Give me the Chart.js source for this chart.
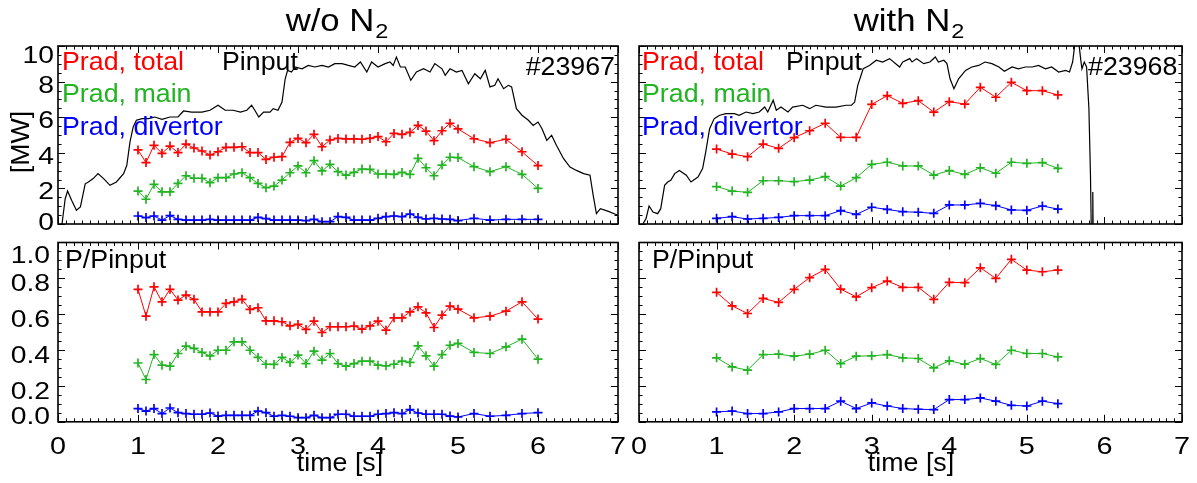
<!DOCTYPE html>
<html>
<head>
<meta charset="utf-8">
<script src="https://cdn.jsdelivr.net/npm/chart.js@4.4.1/dist/chart.umd.min.js"></script>
<style>
  html, body { margin: 0; padding: 0; background: #fff; }
  #wrap { position: relative; width: 1197px; height: 483px; }
  #wrap canvas { position: absolute; left: 0; top: 0; }
</style>
</head>
<body>
<div id="wrap">
  <canvas id="tl" width="1197" height="483"></canvas>
  <canvas id="tr" width="1197" height="483"></canvas>
  <canvas id="bl" width="1197" height="483"></canvas>
  <canvas id="br" width="1197" height="483"></canvas>
</div>
<script>
// ---- data ----
// shot #23967 (w/o N2), sampled every 0.1 s up to 5.0 s, then 0.2 s
const timeW = [1.0, 1.1, 1.2, 1.3, 1.4, 1.5, 1.6, 1.7, 1.8, 1.9, 2.0, 2.1, 2.2, 2.3, 2.4, 2.5, 2.6, 2.7, 2.8, 2.9,
  3.0, 3.1, 3.2, 3.3, 3.4, 3.5, 3.6, 3.7, 3.8, 3.9, 4.0, 4.1, 4.2, 4.3, 4.4, 4.5, 4.6, 4.7, 4.8, 4.9, 5.0,
  5.2, 5.4, 5.6, 5.8, 6.0];
const radTotalW = [4.16, 3.45, 4.42, 3.97, 4.38, 4.01, 4.49, 4.27, 4.10, 3.88, 4.06, 4.31, 4.31, 4.34, 4.01, 4.01, 3.63, 3.75, 3.78, 4.59,
  4.81, 4.57, 5.04, 4.34, 4.72, 4.81, 4.78, 4.78, 4.76, 4.81, 4.91, 4.62, 5.09, 5.04, 5.15, 5.54, 5.22, 4.68, 5.24, 5.66, 5.34,
  4.79, 4.57, 4.76, 4.06, 3.28];
const radMainW = [1.85, 1.39, 2.23, 1.81, 1.81, 2.28, 2.71, 2.57, 2.57, 2.32, 2.60, 2.60, 2.81, 2.88, 2.60, 2.28, 2.04, 2.13, 2.47, 2.88,
  3.26, 2.88, 3.56, 2.98, 3.35, 2.94, 2.75, 2.90, 3.09, 3.07, 2.81, 2.81, 2.79, 2.90, 2.79, 3.69, 3.16, 2.71, 3.31, 3.75, 3.73,
  3.22, 2.94, 3.22, 2.79, 2.00];
const radDivW = [0.45, 0.36, 0.45, 0.22, 0.47, 0.26, 0.22, 0.22, 0.22, 0.26, 0.22, 0.22, 0.22, 0.22, 0.22, 0.37, 0.30, 0.22, 0.22, 0.22,
  0.22, 0.19, 0.26, 0.13, 0.13, 0.41, 0.37, 0.22, 0.22, 0.22, 0.32, 0.41, 0.45, 0.41, 0.56, 0.37, 0.28, 0.32, 0.28, 0.26, 0.19,
  0.32, 0.22, 0.26, 0.26, 0.26];
const fracTotalW = [0.739, 0.589, 0.753, 0.669, 0.739, 0.679, 0.707, 0.683, 0.613, 0.613, 0.613, 0.660, 0.669, 0.683, 0.627, 0.636, 0.563, 0.563, 0.558, 0.535,
  0.543, 0.515, 0.561, 0.498, 0.530, 0.530, 0.530, 0.534, 0.517, 0.535, 0.561, 0.511, 0.580, 0.580, 0.613, 0.641, 0.608, 0.526, 0.595, 0.645, 0.628,
  0.580, 0.589, 0.617, 0.669, 0.573];
const fracMainW = [0.328, 0.236, 0.375, 0.316, 0.310, 0.381, 0.422, 0.409, 0.387, 0.368, 0.399, 0.399, 0.446, 0.446, 0.399, 0.359, 0.321, 0.320, 0.359, 0.331,
  0.372, 0.325, 0.394, 0.344, 0.381, 0.325, 0.310, 0.325, 0.338, 0.338, 0.316, 0.312, 0.321, 0.338, 0.331, 0.424, 0.368, 0.310, 0.375, 0.427, 0.437,
  0.387, 0.381, 0.418, 0.461, 0.349];
const fracDivW = [0.074, 0.060, 0.074, 0.046, 0.077, 0.051, 0.046, 0.042, 0.042, 0.049, 0.032, 0.036, 0.036, 0.036, 0.036, 0.059, 0.051, 0.031, 0.036, 0.031,
  0.023, 0.023, 0.036, 0.023, 0.023, 0.042, 0.042, 0.031, 0.031, 0.031, 0.042, 0.046, 0.051, 0.046, 0.068, 0.049, 0.042, 0.042, 0.042, 0.032, 0.027,
  0.046, 0.031, 0.036, 0.046, 0.051];
const pinTimeW = [0.05, 0.09, 0.12, 0.17, 0.23, 0.28, 0.34, 0.38, 0.44, 0.50, 0.57, 0.65, 0.73, 0.82, 0.86, 0.90, 0.94, 0.98, 1.05, 1.13,
  1.21, 1.30, 1.40, 1.50, 1.57, 1.67, 1.80, 1.90, 2.00, 2.09, 2.19, 2.28, 2.36, 2.42, 2.46, 2.51, 2.57, 2.65, 2.69, 2.75,
  2.80, 2.84, 2.87, 2.92, 2.96, 3.05, 3.13, 3.21, 3.30, 3.38, 3.46, 3.55, 3.63, 3.71, 3.78, 3.86, 3.92, 4.00, 4.09, 4.15,
  4.19, 4.23, 4.28, 4.34, 4.41, 4.48, 4.57, 4.65, 4.71, 4.80, 4.84, 4.90, 4.98, 5.05, 5.13, 5.21, 5.28, 5.34, 5.40, 5.46,
  5.50, 5.57, 5.63, 5.67, 5.73, 5.80, 5.88, 5.94, 6.00, 6.05, 6.11, 6.17, 6.23, 6.32, 6.40, 6.48, 6.57, 6.65, 6.69, 6.73,
  6.78, 6.88, 7.00];
const pinW = [0.00, 1.42, 1.85, 1.33, 0.77, 0.96, 2.26, 2.36, 2.55, 2.83, 2.55, 2.17, 2.36, 2.83, 3.30, 4.61, 5.45, 5.83, 5.92, 5.92,
  6.01, 5.88, 6.01, 6.01, 6.35, 6.29, 6.29, 6.39, 6.67, 6.39, 6.39, 6.29, 6.39, 6.67, 6.39, 6.01, 6.29, 6.29, 6.48, 6.39,
  6.85, 8.16, 8.63, 8.54, 8.82, 8.72, 8.91, 8.82, 8.91, 8.82, 9.01, 9.01, 8.91, 8.82, 9.10, 8.54, 9.10, 8.82, 9.01, 9.10,
  8.91, 9.38, 8.82, 8.82, 8.07, 8.54, 8.72, 8.54, 9.01, 8.72, 8.35, 8.72, 8.54, 8.63, 7.88, 8.44, 8.16, 8.63, 7.70, 7.79,
  8.16, 7.60, 7.79, 7.70, 6.48, 6.11, 5.83, 5.54, 5.73, 5.35, 4.70, 4.98, 4.42, 3.67, 3.20, 3.01, 2.83, 2.74, 1.61, 0.58,
  0.86, 0.71, 0.49];

// shot #23968 (with N2), sampled every 0.2 s
const timeN = [1.0, 1.2, 1.4, 1.6, 1.8, 2.0, 2.2, 2.4, 2.6, 2.8, 3.0, 3.2, 3.4, 3.6, 3.8, 4.0, 4.2, 4.4, 4.6, 4.8, 5.0, 5.2, 5.4];
const radTotalN = [4.21, 3.93, 3.78, 4.49, 4.25, 4.85, 5.24, 5.66, 4.87, 4.87, 6.72, 7.21, 6.78, 6.93, 6.29, 6.87, 6.74, 7.68, 7.12, 7.96, 7.49, 7.49, 7.25];
const radMainN = [2.10, 1.85, 1.78, 2.43, 2.43, 2.38, 2.47, 2.66, 2.13, 2.60, 3.35, 3.47, 3.26, 3.26, 2.75, 3.00, 2.79, 3.16, 2.85, 3.47, 3.41, 3.45, 3.13];
const radDivN = [0.32, 0.41, 0.28, 0.32, 0.37, 0.47, 0.47, 0.47, 0.75, 0.54, 0.94, 0.82, 0.69, 0.66, 0.60, 1.07, 1.07, 1.16, 1.03, 0.79, 0.77, 1.01, 0.84];
const fracTotalN = [0.722, 0.647, 0.604, 0.688, 0.666, 0.739, 0.804, 0.850, 0.740, 0.697, 0.748, 0.785, 0.750, 0.750, 0.683, 0.778, 0.776, 0.859, 0.800, 0.906, 0.846, 0.837, 0.846];
const fracMainN = [0.357, 0.306, 0.288, 0.375, 0.377, 0.366, 0.377, 0.399, 0.325, 0.366, 0.368, 0.375, 0.357, 0.353, 0.301, 0.340, 0.321, 0.353, 0.320, 0.399, 0.381, 0.381, 0.362];
const fracDivN = [0.055, 0.060, 0.046, 0.046, 0.055, 0.074, 0.074, 0.074, 0.115, 0.074, 0.105, 0.088, 0.074, 0.070, 0.068, 0.124, 0.124, 0.133, 0.115, 0.092, 0.088, 0.115, 0.101];
const pinTimeN = [0.05, 0.09, 0.13, 0.18, 0.24, 0.28, 0.33, 0.37, 0.41, 0.46, 0.52, 0.61, 0.67, 0.76, 0.82, 0.86, 0.91, 0.97, 1.04, 1.12,
  1.23, 1.29, 1.38, 1.47, 1.55, 1.62, 1.66, 1.73, 1.77, 1.83, 1.92, 1.98, 2.11, 2.20, 2.28, 2.41, 2.54, 2.67, 2.74, 2.78,
  2.82, 2.89, 2.97, 3.06, 3.14, 3.23, 3.36, 3.40, 3.49, 3.52, 3.58, 3.67, 3.75, 3.82, 3.86, 3.93, 3.97, 4.01, 4.06, 4.12,
  4.21, 4.29, 4.38, 4.46, 4.55, 4.64, 4.71, 4.81, 4.89, 4.98, 5.07, 5.15, 5.24, 5.32, 5.41, 5.50, 5.55, 5.59, 5.63, 5.66,
  5.69, 5.71, 5.74, 5.77, 5.80, 5.82, 5.84, 5.85, 5.86];
const pinN = [0.00, 0.30, 1.01, 0.67, 0.58, 0.86, 2.17, 2.36, 2.45, 2.83, 3.01, 2.74, 2.36, 2.64, 3.11, 4.04, 5.35, 5.92, 6.11, 6.20,
  6.20, 6.11, 6.29, 6.20, 6.29, 6.57, 6.29, 6.95, 6.39, 6.57, 6.29, 6.57, 6.67, 6.48, 6.67, 6.57, 6.57, 6.67, 6.67, 6.85,
  7.79, 8.72, 8.91, 9.20, 9.10, 9.29, 8.82, 9.10, 9.29, 9.10, 9.29, 9.01, 9.10, 9.38, 9.10, 9.20, 9.01, 8.16, 7.60, 8.16,
  8.63, 8.82, 8.91, 9.10, 9.01, 8.82, 8.58, 8.82, 8.72, 8.82, 8.82, 8.91, 8.72, 8.82, 8.54, 8.63, 8.54, 9.10, 10.5, 10.6,
  9.40, 8.72, 9.10, 8.82, 6.48, 2.74, -3.0, 1.8, -3.0];

// tick labels
const xTickLabels = ['0', '1', '2', '3', '4', '5', '6', '7'];
const mwTickLabels = ['0', '2', '4', '6', '8', '10'];
const fracTickLabels = ['0.0', '0.2', '0.4', '0.6', '0.8', '1.0'];

const RED = '#ff0000', GREEN = '#22b422', BLUE = '#0000ff';
const FONT = '"Liberation Sans", Arial, sans-serif';

function pts(xs, ys) {
  return xs.map((x, i) => ({ x: x, y: ys[i] }));
}

// text drawn with a horizontal stretch, like the wide plot font of the original
function txt(ctx, str, x, y, size, color, align, sx, rot) {
  ctx.save();
  ctx.font = size + 'px ' + FONT;
  ctx.fillStyle = color;
  ctx.textBaseline = 'alphabetic';
  ctx.textAlign = 'left';
  const w = ctx.measureText(str).width * sx;
  ctx.translate(x, y);
  if (rot) ctx.rotate(rot);
  let x0 = 0;
  if (align === 'center') x0 = -w / 2;
  else if (align === 'right') x0 = -w;
  ctx.translate(x0, 0);
  ctx.scale(sx, 1);
  ctx.fillText(str, 0, 0);
  ctx.restore();
  return w;
}

const idlFrame = {
  id: 'idlFrame',
  afterDraw(chart, args, o) {
    const ctx = chart.ctx;
    const a = chart.chartArea;
    const xs = chart.scales.x, ys = chart.scales.y;
    ctx.save();
    ctx.strokeStyle = '#000';
    ctx.lineWidth = 1;
    ctx.beginPath();
    // x ticks (inward, bottom and top)
    for (let v = xs.min; v <= xs.max + 1e-6; v += 0.1) {
      const px = Math.round(xs.getPixelForValue(v)) + 0.5;
      const major = Math.abs(v - Math.round(v)) < 1e-6;
      const len = major ? 7 : 3.5;
      ctx.moveTo(px, a.bottom); ctx.lineTo(px, a.bottom - len);
      ctx.moveTo(px, a.top); ctx.lineTo(px, a.top + len);
    }
    // y ticks (inward, left and right)
    for (let v = ys.min; v <= ys.max + 1e-6; v += o.yMinor) {
      const py = Math.round(ys.getPixelForValue(v)) + 0.5;
      const q = v / o.yMajor;
      const major = Math.abs(q - Math.round(q)) < 1e-6;
      const len = major ? 7 : 3.5;
      ctx.moveTo(a.left, py); ctx.lineTo(a.left + len, py);
      ctx.moveTo(a.right, py); ctx.lineTo(a.right - len, py);
    }
    ctx.stroke();
    ctx.lineWidth = 1.6;
    ctx.strokeRect(a.left, a.top, a.right - a.left, a.bottom - a.top);
    ctx.restore();

    if (o.yLabels) {
      o.yLabels.forEach((lab, i) => {
        const py = ys.getPixelForValue(ys.min + i * o.yMajor);
        let c = py + o.yShift;
        c = Math.max(a.top + o.yClampTop, Math.min(a.bottom - o.yClampBot, c));
        txt(ctx, lab, a.left - o.yGap, c + 8.5, 24, '#000', 'right', 1.18);
      });
    }
    if (o.xLabels) {
      o.xLabels.forEach((lab, i) => {
        const px = xs.getPixelForValue(i);
        txt(ctx, lab, px, 453.5, 24, '#000', 'center', 1.2);
      });
    }
    (o.texts || []).forEach(t => {
      txt(ctx, t.s, t.x, t.y, t.size || 25.5, t.c || '#000', t.align || 'left', t.sx || 1.05, t.rot);
    });
    if (o.title) {
      const w1 = txt(ctx, o.title, o.titleX - 8, 31, 31, '#000', 'center', 1.12);
      txt(ctx, '2', o.titleX - 8 + w1 / 2 + 1, 38, 21, '#000', 'left', 1.12);
    }
  }
};

function radSets(t, total, main, div, pinT, pin) {
  const sets = [];
  const mk = (d, col) => ({
    data: d, borderColor: col, backgroundColor: col, borderWidth: 1,
    pointStyle: 'cross', pointRadius: 4.5, pointBorderWidth: 1.7, pointBorderColor: col
  });
  sets.push(mk(pts(t, total), RED));
  sets.push(mk(pts(t, main), GREEN));
  sets.push(mk(pts(t, div), BLUE));
  if (pinT) {
    sets.push({ data: pts(pinT, pin), borderColor: '#000', borderWidth: 1.2, pointRadius: 0, clip: 0 });
  }
  return sets;
}

function panel(id, area, yMax, sets, frame) {
  new Chart(document.getElementById(id), {
    type: 'line',
    data: { datasets: sets },
    plugins: [idlFrame],
    options: {
      responsive: false,
      animation: false,
      events: [],
      layout: { autoPadding: false, padding: { left: area[0], top: area[1], right: 1197 - area[2], bottom: 483 - area[3] } },
      scales: {
        x: { type: 'linear', min: 0, max: 7, display: false },
        y: { type: 'linear', min: 0, max: yMax, display: false }
      },
      elements: { line: { tension: 0 } },
      plugins: { legend: { display: false }, tooltip: { enabled: false }, idlFrame: frame }
    }
  });
}

const legendRows = (x0, xp) => [
  { s: 'Prad, total', x: x0, y: 70, c: RED },
  { s: 'Pinput', x: xp, y: 70, c: '#000' },
  { s: 'Prad, main', x: x0, y: 101.5, c: GREEN },
  { s: 'Prad, divertor', x: x0, y: 134.5, c: BLUE }
];

panel('tl', [58, 46, 618, 224], 10, radSets(timeW, radTotalW, radMainW, radDivW, pinTimeW, pinW), {
  yMajor: 2, yMinor: 0.5, yLabels: mwTickLabels, yShift: 2.5, yClampTop: 8.5, yClampBot: 2.5, yGap: 4,
  title: 'w/o N', titleX: 338,
  texts: legendRows(62, 222).concat([
    { s: '#23967', x: 615, y: 75, align: 'right' },
    { s: '[MW]', x: 29, y: 142, align: 'center', rot: -Math.PI / 2 }
  ])
});
panel('tr', [639, 46, 1182, 224], 10, radSets(timeN, radTotalN, radMainN, radDivN, pinTimeN, pinN), {
  yMajor: 2, yMinor: 0.5,
  title: 'with N', titleX: 910,
  texts: legendRows(642, 786).concat([
    { s: '#23968', x: 1088, y: 75 }
  ])
});
panel('bl', [58, 242.5, 618, 421.8], 1, radSets(timeW, fracTotalW, fracMainW, fracDivW), {
  yMajor: 0.2, yMinor: 0.05, yLabels: fracTickLabels, yShift: 4.5, yClampTop: 12, yClampBot: 6.5, yGap: 8,
  xLabels: xTickLabels,
  texts: [
    { s: 'P/Pinput', x: 65, y: 268 },
    { s: 'time [s]', x: 340, y: 471, align: 'center' }
  ]
});
panel('br', [639, 242.5, 1182, 421.8], 1, radSets(timeN, fracTotalN, fracMainN, fracDivN), {
  yMajor: 0.2, yMinor: 0.05,
  xLabels: xTickLabels,
  texts: [
    { s: 'P/Pinput', x: 652, y: 268 },
    { s: 'time [s]', x: 911, y: 471, align: 'center' }
  ]
});
</script>
</body>
</html>
